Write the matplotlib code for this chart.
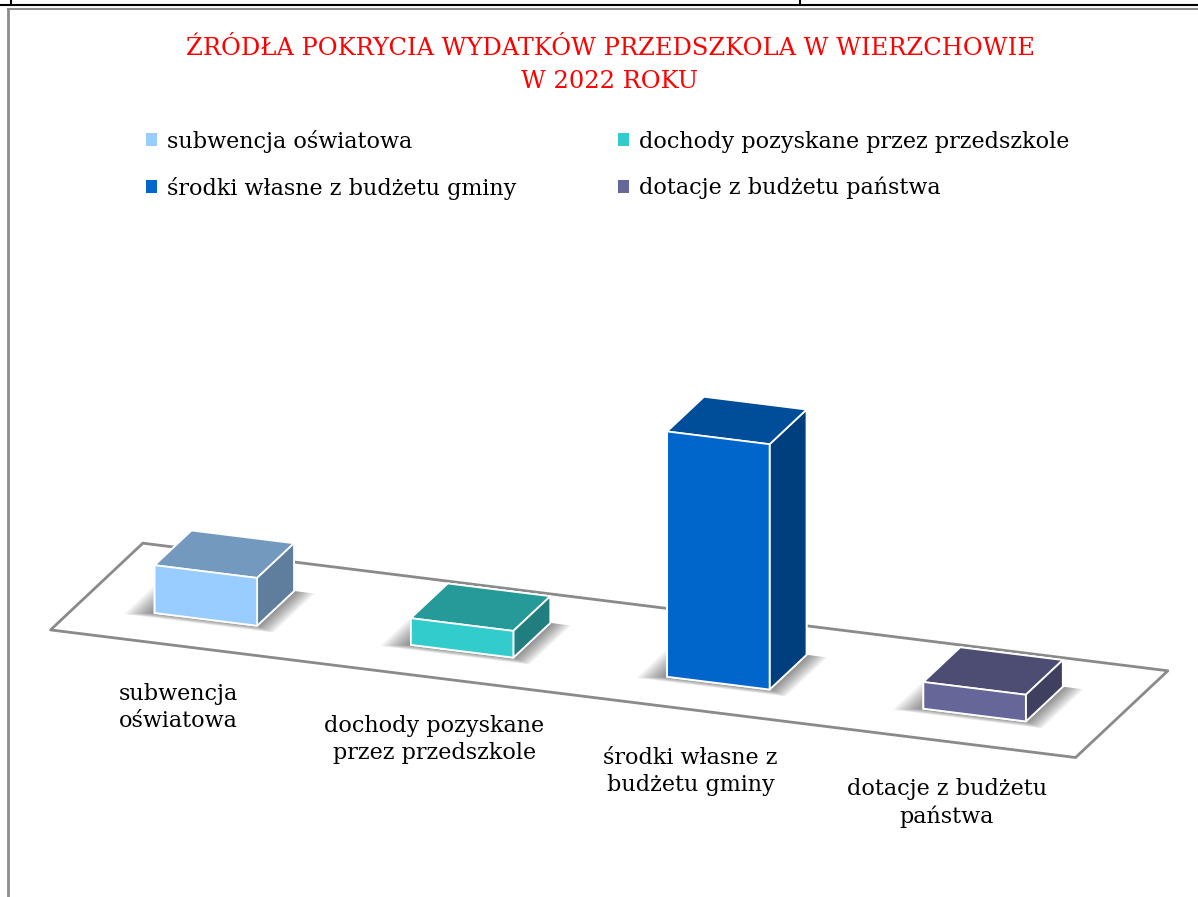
import numpy as np
from matplotlib import pyplot as plt
from matplotlib import colors as mcolors
from matplotlib.patches import Patch
from matplotlib.lines import Line2D
from mpl_toolkits.mplot3d import proj3d
from mpl_toolkits.mplot3d.art3d import Poly3DCollection

# dane (brak osi wartosci, wysokosci slupkow w proporcji)
title = 'ŹRÓDŁA POKRYCIA WYDATKÓW PRZEDSZKOLA W WIERZCHOWIE\nW 2022 ROKU'
categories = ['subwencja oświatowa', 'dochody pozyskane przez przedszkole',
              'środki własne z budżetu gminy', 'dotacje z budżetu państwa']
tick_labels = ['subwencja\noświatowa', 'dochody pozyskane\nprzez przedszkole',
               'środki własne z\nbudżetu gminy', 'dotacje z budżetu\npaństwa']
values = [179, 100, 919, 100]
colors = ['#99CCFF', '#33CCCC', '#0066CC', '#666699']

W, H = 1198, 897
fig = plt.figure(figsize=(W / 100, H / 100), dpi=100)
serif = ['DejaVu Serif']

# ramki dokumentu
fig.add_artist(Line2D([0, 1], [1 - 5 / H, 1 - 5 / H], color='black', lw=1.5))
fig.add_artist(Line2D([11 / W, 11 / W], [1, 1 - 5 / H], color='black', lw=1.5))
fig.add_artist(Line2D([800 / W, 800 / W], [1, 1 - 5 / H], color='black', lw=1.5))
fig.add_artist(Line2D([8 / W, 1], [1 - 9 / H, 1 - 9 / H], color='#8c8c8c', lw=1.5))
fig.add_artist(Line2D([8 / W, 8 / W], [0, 1 - 9 / H], color='#8c8c8c', lw=2))

fig.text(610 / W, 1 - 65 / H, title, ha='center', va='center', color='red',
         fontsize=17.4, family=serif, linespacing=1.55)

# widok 3D (rzut prostokatny, jak w Excelu)
elev, azim = 20, -70
ea, aa = np.radians(elev), np.radians(azim)
S = 1400.0
px = 0.185 * 10 / S
floor_w, floor_d, bar_h = 1025, 92.3, 245.3
box = np.array([floor_w * px / -np.sin(aa), floor_d * px / np.cos(aa), bar_h * px / np.cos(ea)])
zoom = np.linalg.norm(box) / (1.8294640721620434 * 25 / 24)
cx, cy = 608.7, H - 527.2
off = S * 0.095 / 0.185
ax = fig.add_axes([(cx - off) / W, (cy - off) / H, S / W, S / H], projection='3d',
                  proj_type='ortho', computed_zorder=False)
ax.set_box_aspect(box, zoom=zoom)
ax.view_init(elev=elev, azim=azim)
ax.set_xlim(0, len(values))
ax.set_ylim(0, 1)
ax.set_zlim(0, max(values))
ax.set_xticks([])
ax.set_yticks([])
ax.set_zticks([])
for axis in (ax.xaxis, ax.yaxis, ax.zaxis):
    axis.label.set_visible(False)
    axis.offsetText.set_visible(False)
ax.set_axis_off()

n = len(values)
floor = Poly3DCollection([[(0, 0, 0), (n, 0, 0), (n, 1, 0), (0, 1, 0)]],
                         facecolor='white', edgecolor='#8a8a8a', linewidths=2)
floor.set_zorder(1)
ax.add_collection3d(floor)

# miekki cien pod slupkami
for i in range(n):
    for m in np.linspace(0.01, 0.1, 9):
        x0, x1 = i + 0.3 - m, i + 0.7 + m * 0.8
        y0, y1 = 0.3 - m * 0.5, 0.7
        sh = Poly3DCollection([[(x0, y0, 0), (x1, y0, 0), (x1, y1, 0), (x0, y1, 0)]],
                              facecolor='black', edgecolor='none', alpha=0.06)
        sh.set_zorder(2)
        ax.add_collection3d(sh)

for i, (v, c) in enumerate(zip(values, colors)):
    rgb = np.array(mcolors.to_rgb(c))
    faces = [rgb * 0.5, rgb * 0.75, rgb, rgb * 0.5, rgb * 0.5, rgb * 0.62]
    b = ax.bar3d(i + 0.3, 0.3, 0, 0.4, 0.4, v, color=faces, edgecolor='white',
                 linewidth=1.3, shade=False)
    b.set_zorder(3)

# podpisy kategorii pod przednia krawedzia podlogi
M = ax.get_proj()
for i, lab in enumerate(tick_labels):
    x2, y2, _ = proj3d.proj_transform(i + 0.5, 0, 0, M)
    ax.annotate(lab, xy=(x2, y2), xycoords='data', xytext=(0, -62),
                textcoords='offset pixels', ha='center', va='center', fontsize=16,
                family=serif, linespacing=1.3, annotation_clip=False)

handles = [Patch(facecolor=c) for c in colors]
order = [0, 2, 1, 3]
fig.legend([handles[k] for k in order], [categories[k] for k in order], ncol=2,
           loc='upper left', bbox_to_anchor=(135 / W, 1 - 118.5 / H), frameon=False,
           borderpad=0, prop={'family': serif, 'size': 16}, handlelength=0.5,
           handleheight=0.5, handletextpad=0.45, columnspacing=4.55, labelspacing=1.08)

fig.savefig('out.png', dpi=100)
